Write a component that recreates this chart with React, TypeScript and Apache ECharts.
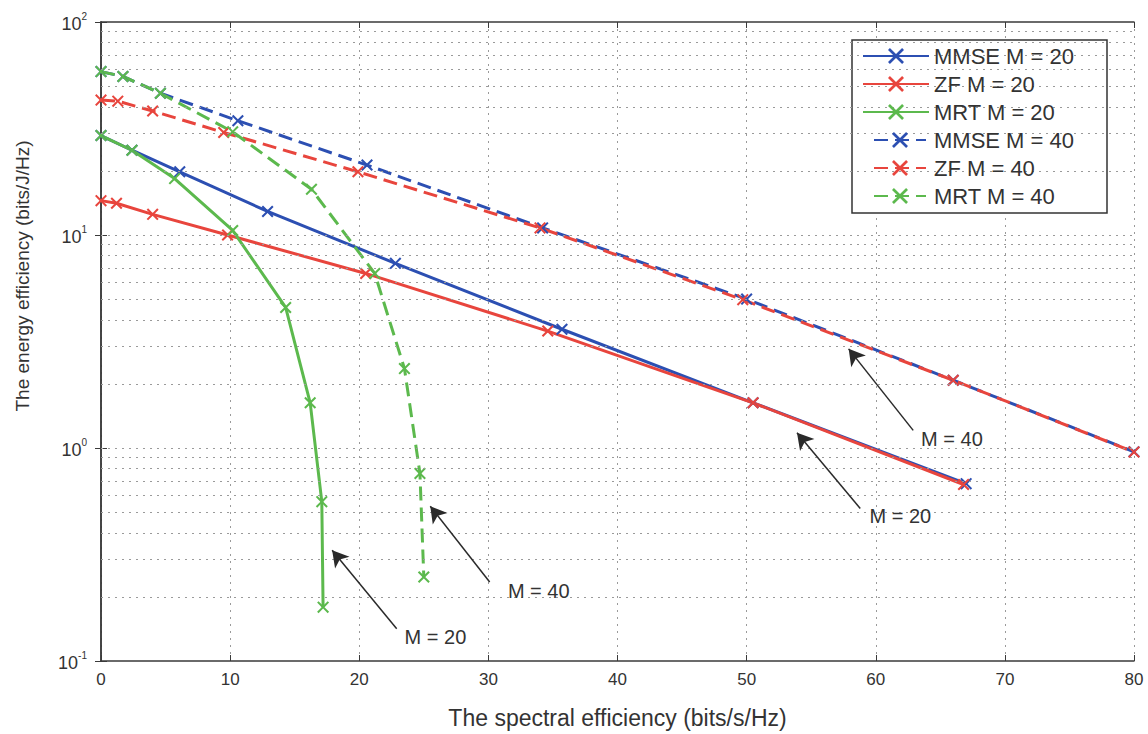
import React, { useEffect, useRef } from "react";
import * as echarts from "echarts";

// ---- data ----
const X_MIN = 0;
const X_MAX = 80;
const X_INTERVAL = 10;
const Y_MIN = 0.1;
const Y_MAX = 100;

const yGridValues = [
  0.2, 0.3, 0.4, 0.5, 0.6, 0.7, 0.8, 0.9, 1,
  2, 3, 4, 5, 6, 7, 8, 9, 10,
  20, 30, 40, 50, 60, 70, 80, 90,
];

const mmseM20 = [[0, 29.3], [2.4, 25], [6.1, 19.8], [12.9, 12.9], [22.8, 7.36], [35.7, 3.61], [50.5, 1.63], [67, 0.68]];
const zfM20 = [[0, 14.5], [1.2, 14.1], [4, 12.5], [9.8, 10.0], [20.5, 6.6], [34.6, 3.54], [50.5, 1.63], [66.8, 0.674]];
const mrtM20 = [[0, 29.3], [2.4, 25], [5.7, 18.4], [10.2, 10.5], [14.3, 4.57], [16.2, 1.63], [17.1, 0.56], [17.2, 0.179]];
const mmseM40 = [[0, 58.5], [1.7, 55.5], [4.6, 46.3], [10.6, 34.4], [20.6, 21.3], [34.2, 10.8], [50, 5.0], [66, 2.08], [80, 0.96]];
const zfM40 = [[0, 43], [1.3, 42.5], [4, 38.2], [9.5, 30.3], [19.9, 19.8], [34, 10.8], [49.7, 4.97], [66, 2.08], [80, 0.957]];
const mrtM40 = [[0, 58.5], [1.7, 55.5], [4.6, 46.3], [10.2, 30.5], [16.3, 16.4], [21.2, 6.6], [23.5, 2.36], [24.7, 0.76], [25, 0.248]];

const seriesNames = ["MMSE M = 20", "ZF M = 20", "MRT M = 20", "MMSE M = 40", "ZF M = 40", "MRT M = 40"];

// annotations: [tail, tip, label position, text]
const arrows = [
  { tail: [62.9, 1.21], tip: [57.9, 2.92], label: [65.9, 1.1], text: "M = 40" },
  { tail: [58.8, 0.52], tip: [53.9, 1.18], label: [61.9, 0.48], text: "M = 20" },
  { tail: [22.9, 0.1416], tip: [17.9, 0.331], label: [25.9, 0.13], text: "M = 20" },
  { tail: [30.1, 0.235], tip: [25.5, 0.533], label: [33.9, 0.212], text: "M = 40" },
];

const BLUE = "#2c4fb2";
const RED = "#e8453d";
const GREEN = "#5cb94d";
const AXIS = "#3a3a3a";
const TEXT = "#333333";
const FONT = "Liberation Sans, Arial, sans-serif";
const NARROW = "Liberation Sans Narrow, Liberation Sans, Arial, sans-serif";

const X_SYMBOL =
  "path://M0,1.2 L1.2,0 L5,3.8 L8.8,0 L10,1.2 L6.2,5 L10,8.8 L8.8,10 L5,6.2 L1.2,10 L0,8.8 L3.8,5 Z";

function lineSeries(name: string, data: number[][], color: string, dashed: boolean, z: number) {
  return {
    name,
    type: "line",
    data,
    xAxisIndex: 0,
    yAxisIndex: 0,
    symbol: X_SYMBOL,
    symbolSize: 12,
    showAllSymbol: true,
    z,
    lineStyle: { color, width: 3, type: dashed ? [14, 7] : "solid" },
    itemStyle: { color },
    emphasis: { disabled: true },
  };
}

export default function App() {
  const ref = useRef<HTMLDivElement>(null);

  useEffect(() => {
    if (!ref.current) return;
    const chart = echarts.init(ref.current, undefined, { renderer: "svg" });

    const legendCommon = {
      orient: "vertical",
      itemHeight: 20,
      itemGap: 6,
      padding: 0,
      textStyle: { color: TEXT, fontSize: 22, lineHeight: 20, fontFamily: FONT },
      selectedMode: false,
      z: 10,
    };

    const option: any = {
      animation: false,
      backgroundColor: "#ffffff",
      grid: { left: 101, top: 22, right: 14, bottom: 62, containLabel: false },
      legend: [
        {
          ...legendCommon,
          data: seriesNames.slice(0, 3),
          left: 862,
          top: 45,
          itemWidth: 66,
        },
        {
          ...legendCommon,
          data: seriesNames.slice(3),
          left: 873,
          top: 129,
          itemWidth: 52,
          textStyle: { ...legendCommon.textStyle, padding: [0, 0, 0, 3] },
        },
      ],
      xAxis: [
        {
          type: "value",
          min: X_MIN,
          max: X_MAX,
          interval: X_INTERVAL,
          position: "bottom",
          axisLine: { show: true, lineStyle: { color: AXIS, width: 1.5 } },
          axisTick: { show: true, inside: true, length: 6, lineStyle: { color: AXIS } },
          axisLabel: { color: TEXT, fontSize: 17, fontFamily: NARROW, margin: 10 },
          splitLine: { show: true, lineStyle: { color: "#9a9a9a", type: [2, 5], width: 1 } },
          name: "The spectral efficiency (bits/s/Hz)",
          nameLocation: "middle",
          nameGap: 45,
          nameTextStyle: { color: TEXT, fontSize: 23, fontFamily: FONT },
        },
        {
          type: "value",
          min: X_MIN,
          max: X_MAX,
          interval: X_INTERVAL,
          position: "top",
          axisLine: { show: true, lineStyle: { color: AXIS, width: 1.5 } },
          axisTick: { show: true, inside: true, length: 6, lineStyle: { color: AXIS } },
          axisLabel: { show: false },
          splitLine: { show: false },
        },
      ],
      yAxis: [
        {
          type: "log",
          logBase: 10,
          min: Y_MIN,
          max: Y_MAX,
          position: "left",
          axisLine: { show: true, lineStyle: { color: AXIS, width: 1.5 } },
          axisTick: { show: true, inside: true, length: 6, lineStyle: { color: AXIS } },
          axisLabel: {
            margin: 14,
            formatter: (v: number) => `{b|10}{s|${Math.round(Math.log10(v))}}`,
            rich: {
              b: { fontSize: 18, fontFamily: NARROW, color: TEXT, lineHeight: 22, verticalAlign: "bottom" },
              s: { fontSize: 10, fontFamily: NARROW, color: TEXT, lineHeight: 22, verticalAlign: "top" },
            },
          },
          splitLine: { show: false },
        },
        {
          type: "log",
          logBase: 10,
          min: Y_MIN,
          max: Y_MAX,
          position: "right",
          axisLine: { show: true, lineStyle: { color: AXIS, width: 1.5 } },
          axisTick: { show: true, inside: true, length: 6, lineStyle: { color: AXIS } },
          axisLabel: { show: false },
          splitLine: { show: false },
        },
      ],
      graphic: [
        {
          type: "rect",
          shape: { x: 852, y: 40, width: 255, height: 173 },
          style: { fill: "#ffffff", stroke: "#333333", lineWidth: 1.5 },
          z: 5,
        },
        {
          type: "text",
          x: 22,
          y: 276,
          rotation: Math.PI / 2,
          style: {
            text: "The energy efficiency (bits/J/Hz)",
            fill: TEXT,
            font: `19px ${FONT}`,
            textAlign: "center",
            textVerticalAlign: "middle",
          },
        },
      ],
      series: [
        {
          name: "grid",
          type: "line",
          data: [],
          silent: true,
          z: 1,
          markLine: {
            silent: true,
            symbol: "none",
            label: { show: false },
            lineStyle: { color: "#9a9a9a", type: [2, 5], width: 1 },
            data: yGridValues.map((v) => ({ yAxis: v })),
          },
        },
        lineSeries(seriesNames[0], mmseM20, BLUE, false, 2),
        lineSeries(seriesNames[1], zfM20, RED, false, 2),
        lineSeries(seriesNames[2], mrtM20, GREEN, false, 2),
        lineSeries(seriesNames[3], mmseM40, BLUE, true, 2),
        lineSeries(seriesNames[4], zfM40, RED, true, 2),
        lineSeries(seriesNames[5], mrtM40, GREEN, true, 2),
        {
          name: "annotations",
          type: "line",
          data: [],
          silent: true,
          z: 3,
          markLine: {
            silent: true,
            symbol: ["none", "arrow"],
            symbolSize: [14, 16],
            label: { show: false },
            lineStyle: { color: "#2a2a2a", width: 1.5, type: "solid" },
            data: arrows.map((a) => [{ coord: a.tail }, { coord: a.tip }]),
          },
          markPoint: {
            silent: true,
            symbol: "circle",
            symbolSize: 1,
            itemStyle: { color: "rgba(0,0,0,0)" },
            label: {
              show: true,
              position: "inside",
              color: TEXT,
              fontSize: 20,
              fontFamily: FONT,
              formatter: (p: any) => p.name,
            },
            data: arrows.map((a) => ({ name: a.text, coord: a.label })),
          },
        },
      ],
    };

    chart.setOption(option);
    return () => chart.dispose();
  }, []);

  return (
    <div
      ref={ref}
      style={{ position: "fixed", left: 0, top: 0, width: 1148, height: 734, overflow: "hidden" }}
    />
  );
}
